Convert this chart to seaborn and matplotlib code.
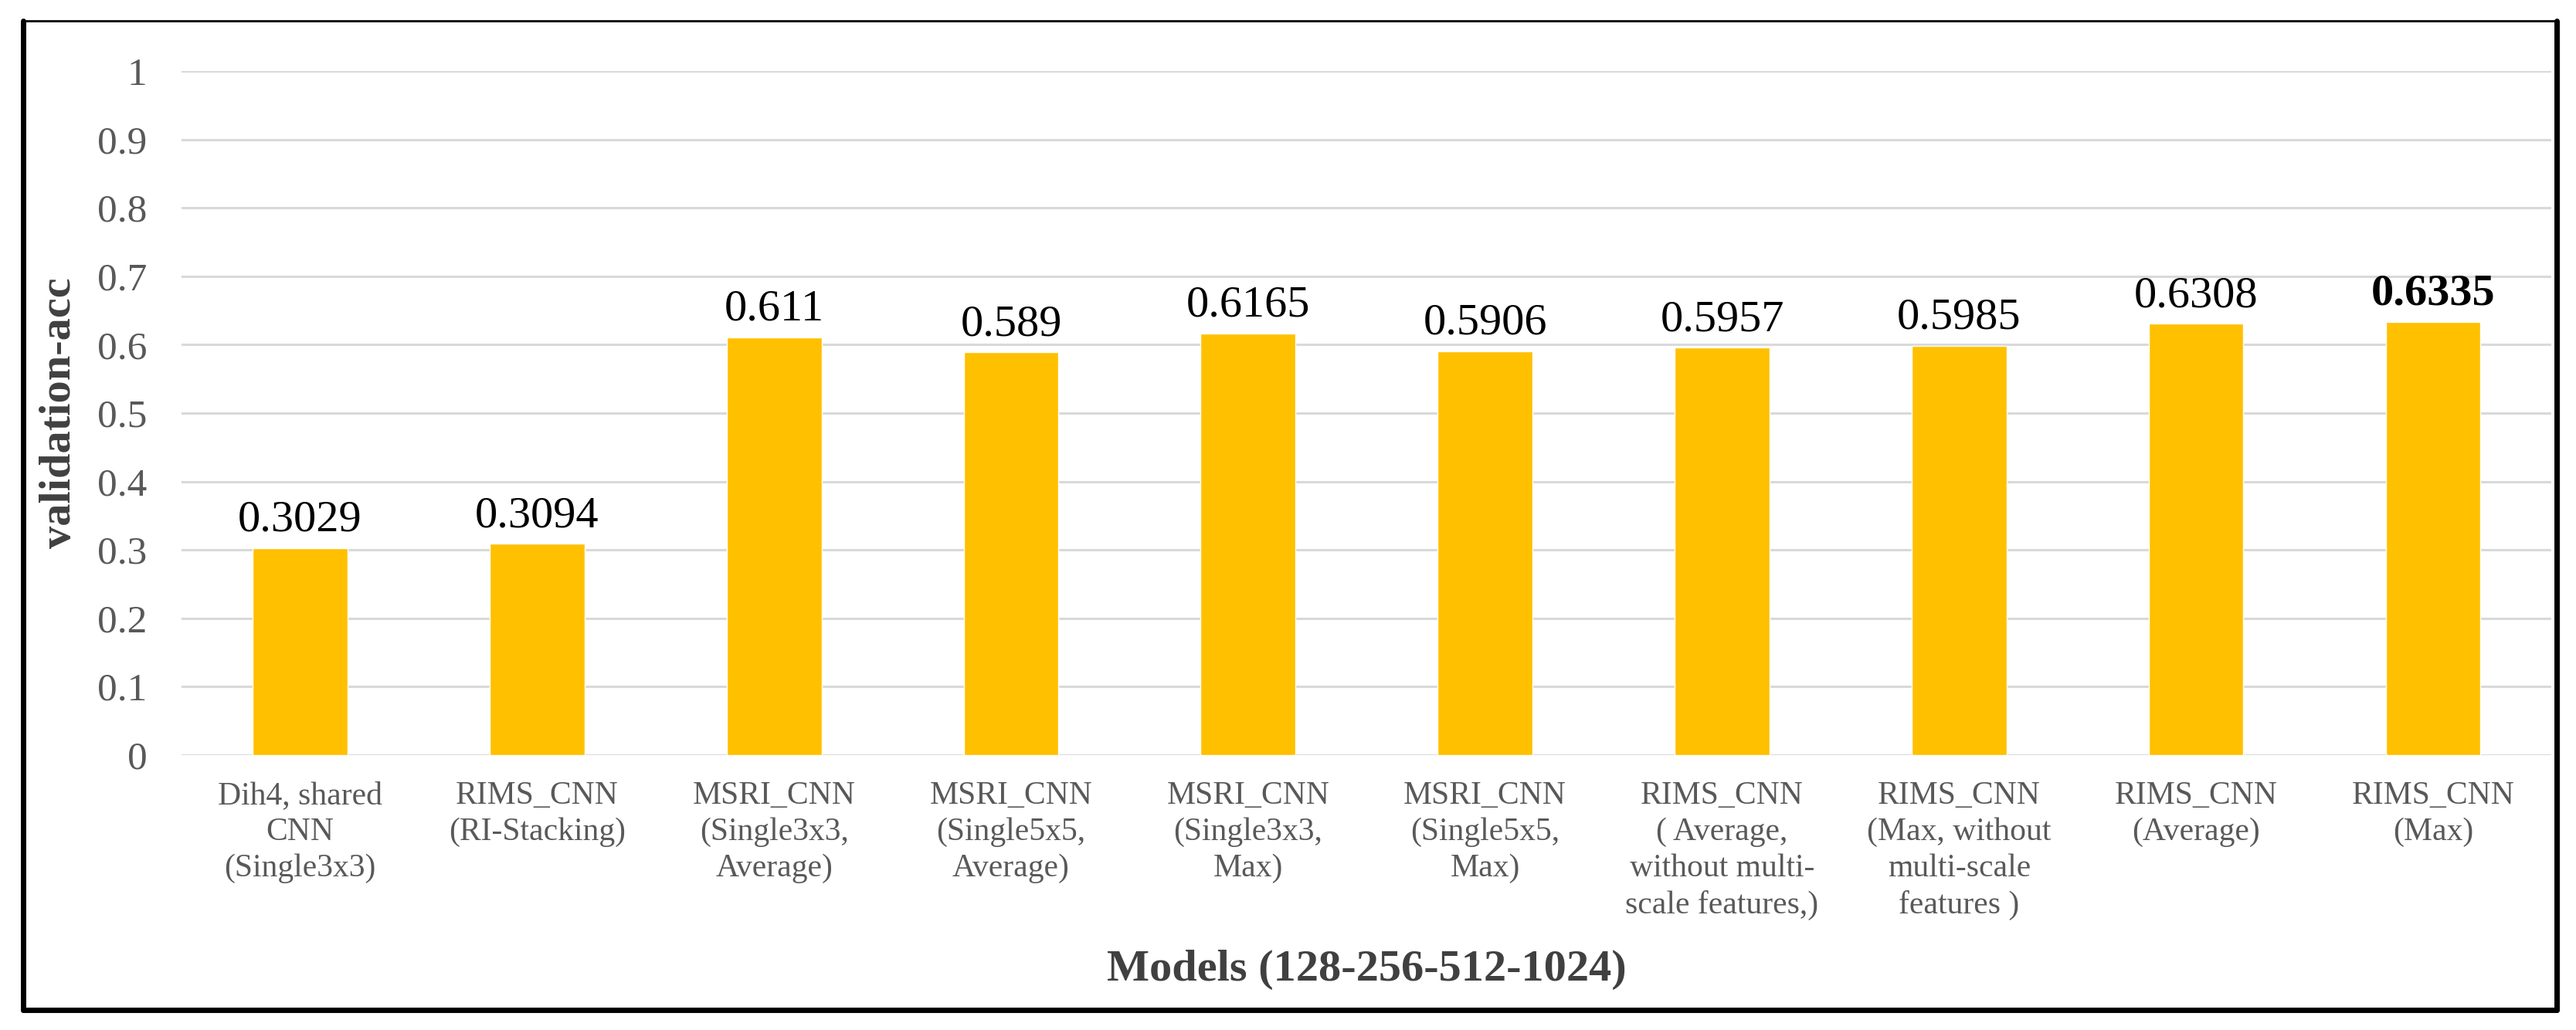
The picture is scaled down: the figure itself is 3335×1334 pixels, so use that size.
import matplotlib
matplotlib.use("Agg")
import matplotlib.pyplot as plt
from matplotlib.lines import Line2D
import seaborn as sns
import pandas as pd

# model names (tick labels) and validation accuracy per model
models = [
    "Dih4, shared\nCNN\n(Single3x3)",
    "RIMS_CNN\n(RI-Stacking)",
    "MSRI_CNN\n(Single3x3,\nAverage)",
    "MSRI_CNN\n(Single5x5,\nAverage)",
    "MSRI_CNN\n(Single3x3,\nMax)",
    "MSRI_CNN\n(Single5x5,\nMax)",
    "RIMS_CNN\n( Average,\nwithout multi-\nscale features,)",
    "RIMS_CNN\n(Max, without\nmulti-scale\nfeatures )",
    "RIMS_CNN\n(Average)",
    "RIMS_CNN\n(Max)",
]
val_acc = [0.3029, 0.3094, 0.611, 0.589, 0.6165, 0.5906, 0.5957, 0.5985, 0.6308, 0.6335]
value_labels = ["0.3029", "0.3094", "0.611", "0.589", "0.6165",
                "0.5906", "0.5957", "0.5985", "0.6308", "0.6335"]
y_ticks = [0, 0.1, 0.2, 0.3, 0.4, 0.5, 0.6, 0.7, 0.8, 0.9, 1]
y_tick_labels = ["0", "0.1", "0.2", "0.3", "0.4", "0.5", "0.6", "0.7", "0.8", "0.9", "1"]

df = pd.DataFrame({"model": models, "acc": val_acc})

sns.set_style("white")
plt.rcParams["font.family"] = ["Liberation Serif", "DejaVu Serif"]

fig = plt.figure(figsize=(33.35, 13.34), dpi=100)
ax = fig.add_axes([0.0705, 0.267, 0.92, 0.664])

sns.barplot(data=df, x="model", y="acc", color="#FFC000", width=0.4,
            saturation=1, ax=ax, zorder=3)

# value labels above the bars, last one in bold
for i, (v, txt) in enumerate(zip(val_acc, value_labels)):
    ax.text(i, v + 0.011, txt, ha="center", va="bottom", fontsize=42,
            color="black", fontweight="bold" if i == len(val_acc) - 1 else "normal")

ax.set_ylim(0, 1)
ax.set_xlim(-0.5, len(models) - 0.5)
ax.set_yticks(y_ticks)
ax.set_yticklabels(y_tick_labels)
ax.yaxis.grid(True, color="#D9D9D9", linewidth=2.2)
ax.set_axisbelow(True)
for s in ax.spines.values():
    s.set_visible(False)

ax.tick_params(axis="y", length=0, pad=32, labelsize=37, labelcolor="#595959")
ax.tick_params(axis="x", length=0, pad=24, labelsize=30, labelcolor="#595959")
for lab in ax.get_xticklabels():
    lab.set_linespacing(1.3)

ax.set_ylabel("validation-acc", fontsize=42, fontweight="bold", color="#404040")
ax.set_xlabel("Models (128-256-512-1024)", fontsize=42, fontweight="bold", color="#404040")
ax.yaxis.set_label_coords(-0.043, 0.5)
ax.xaxis.set_label_coords(0.5, -0.285)

# black frame around the whole chart
W, H = 3335, 1334
l, r, t, b = 30 / W, 3310 / W, 1 - 27 / H, 1 - 1308 / H
fig.add_artist(Line2D([l, r], [t, t], color="black", lw=2, transform=fig.transFigure))
fig.add_artist(Line2D([l, l], [t, b], color="black", lw=5, transform=fig.transFigure))
fig.add_artist(Line2D([r, r], [t, b], color="black", lw=5, transform=fig.transFigure))
fig.add_artist(Line2D([l, r], [b, b], color="black", lw=5, transform=fig.transFigure))

fig.savefig("out.png", dpi=100)
